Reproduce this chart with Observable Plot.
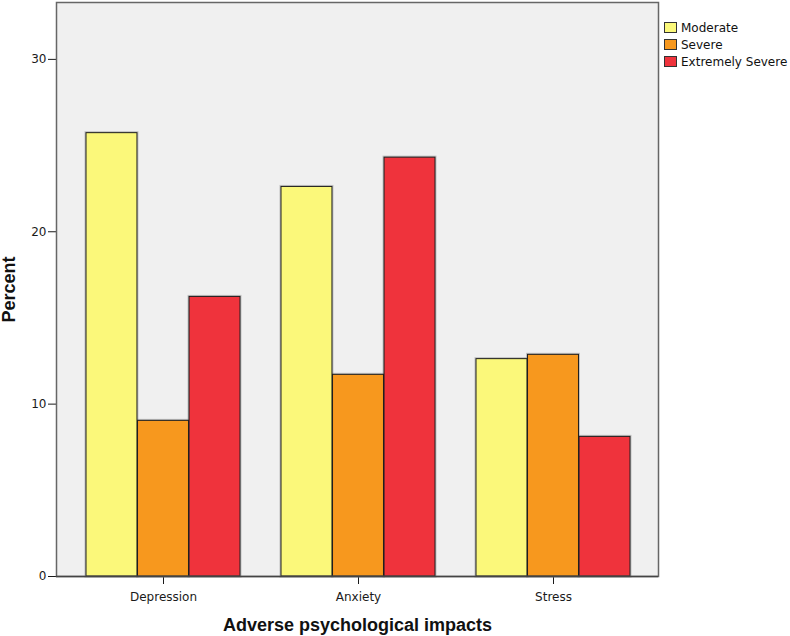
<!DOCTYPE html>
<html>
<head>
<meta charset="utf-8">
<script src="https://cdn.jsdelivr.net/npm/d3@7"></script>
<script src="https://cdn.jsdelivr.net/npm/@observablehq/plot@0.6"></script>
<style>
  body { margin: 0; background: white; }
  #wrap { position: relative; width: 790px; height: 636px; }
  #legend { position: absolute; left: 664px; top: 19px; font-family: "DejaVu Sans", sans-serif; font-size: 12px; color: #111; }
  .row { display: flex; align-items: center; height: 17px; }
  .sw { width: 11px; height: 9px; border: 1px solid #333; margin-right: 4px; box-sizing: content-box; }
</style>
</head>
<body>
<div id="wrap"><div id="legend"></div></div>
<script>
const categories = ["Depression", "Anxiety", "Stress"];
const severities = ["Moderate", "Severe", "Extremely Severe"];
const moderate = [25.72, 22.6, 12.61];
const severe = [9.03, 11.7, 12.86];
const extremelySevere = [16.22, 24.3, 8.1];
const yTicks = [0, 10, 20, 30];
const colors = ["#FBF87A", "#F7981E", "#EF333C"];
const xTitle = "Adverse psychological impacts";
const yTitle = "Percent";

const series = [moderate, severe, extremelySevere];
const data = [];
severities.forEach((s, j) => categories.forEach((c, i) => data.push({category: c, severity: s, value: series[j][i]})));

const W = 790, H = 636, mL = 56, mR = 132, mT = 2, mB = 60;
const pIn = 0.209, pOut = 0.145, alignX = 0.525;
const step = (W - mL - mR) / (categories.length - pIn + 2 * pOut);
const bw = step * (1 - pIn);
const sub = bw / severities.length;

const barMarks = severities.map((s, j) => Plot.barY(data.filter(d => d.severity === s), {
  x: "category", y: "value", fill: colors[j], stroke: "#1e1e1e", strokeWidth: 1,
  insetLeft: sub * j, insetRight: sub * (severities.length - 1 - j)
}));
const shadowMarks = severities.map((s, j) => Plot.barY(data.filter(d => d.severity === s), {
  x: "category", y: "value", fill: "none", stroke: "#888", strokeWidth: 3, strokeOpacity: 0.45,
  insetLeft: sub * j, insetRight: sub * (severities.length - 1 - j)
}));

const chart = Plot.plot({
  width: W, height: H,
  marginLeft: mL, marginRight: mR, marginTop: mT, marginBottom: mB,
  style: {fontFamily: "DejaVu Sans, sans-serif", fontSize: "12px", background: "white", color: "#1a1a1a"},
  x: {domain: categories, paddingInner: pIn, paddingOuter: pOut, align: alignX, tickSize: 8, tickPadding: 8, label: null},
  y: {domain: [0, 33.3], ticks: yTicks, tickSize: 8, tickPadding: 2, label: null, tickFormat: d => String(d)},
  marks: [
    Plot.frame({fill: "#F0F0F0", stroke: "none"}),
    ...shadowMarks,
    ...barMarks,
    Plot.frame({stroke: "#666", strokeWidth: 1.5}),
    Plot.ruleY([0], {stroke: "#444", strokeWidth: 1.5}),
    Plot.text([xTitle], {text: d => d, frameAnchor: "bottom", textAnchor: "middle", lineAnchor: "middle", dy: 49, fontSize: 18, fontWeight: "bold", fontFamily: "Liberation Sans, Arial, sans-serif", fill: "#111", letterSpacing: "0.5px"}),
    Plot.text([yTitle], {text: d => d, frameAnchor: "left", textAnchor: "middle", lineAnchor: "middle", dx: -47.5, rotate: -90, fontSize: 18, fontWeight: "bold", fontFamily: "Liberation Sans, Arial, sans-serif", fill: "#111", letterSpacing: "0.5px"})
  ]
});
const wrap = document.getElementById("wrap");
wrap.insertBefore(chart, wrap.firstChild);

const legend = document.getElementById("legend");
severities.forEach((s, j) => {
  const row = document.createElement("div");
  row.className = "row";
  const sw = document.createElement("div");
  sw.className = "sw";
  sw.style.background = colors[j];
  const t = document.createElement("span");
  t.textContent = s;
  row.appendChild(sw); row.appendChild(t);
  legend.appendChild(row);
});
</script>
</body>
</html>
